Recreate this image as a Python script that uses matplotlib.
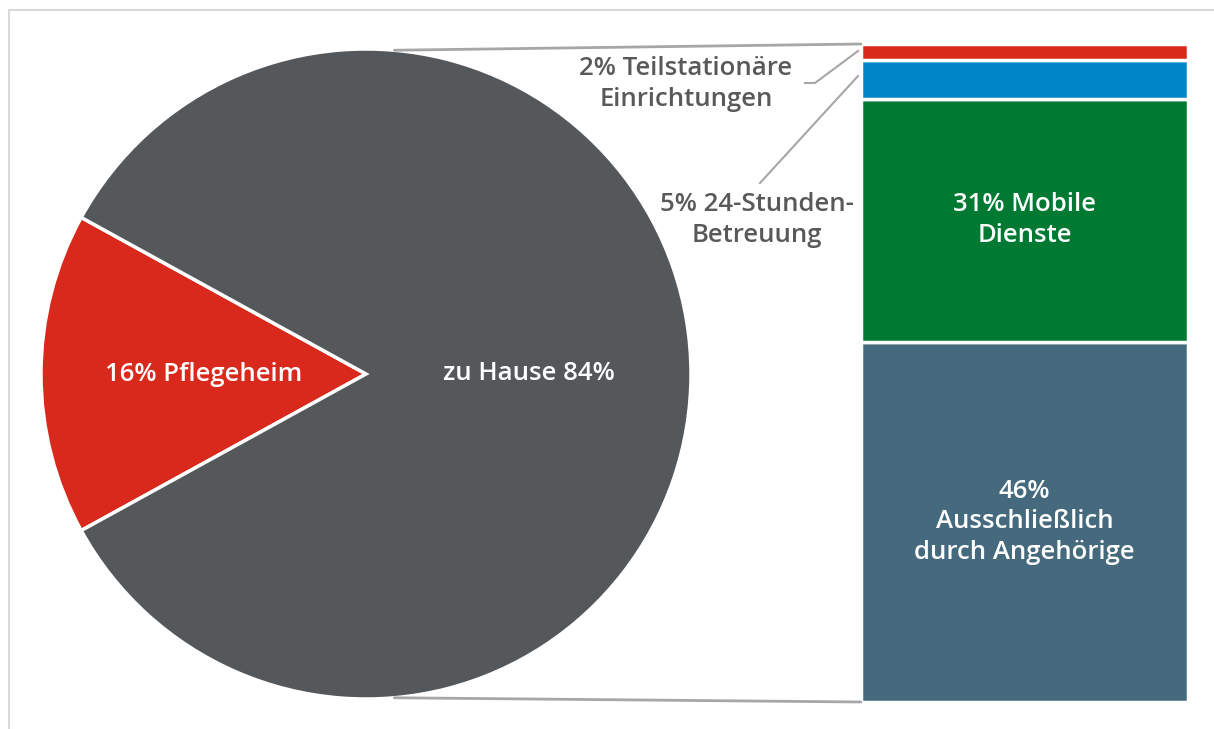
import numpy as np
import matplotlib.pyplot as plt
from matplotlib.patches import ConnectionPatch
from matplotlib.lines import Line2D

plt.rcParams['font.family'] = ['Open Sans', 'DejaVu Sans']

# Daten
pie_labels = ["16% Pflegeheim", "zu Hause 84%"]
pie_values = [16, 84]
pie_colors = ["#d9291c", "#54585b"]

bar_labels = ["46%\nAusschließlich\ndurch Angehörige", "31% Mobile\nDienste",
              "5% 24-Stunden-\nBetreuung", "2% Teilstationäre\nEinrichtungen"]
bar_values = [46, 31, 5, 2]
bar_colors = ["#456a7d", "#007a33", "#0085c8", "#d9291c"]

W, H = 1214, 729
fig = plt.figure(figsize=(W / 100, H / 100), dpi=100)
FS = 18.5
WT = "semibold"
LS = 1.3

def fx(px):
    return px / W

def fy(py):
    return 1 - py / H

# Rahmen
fig.add_artist(Line2D([fx(9), fx(9)], [fy(10), 0], color="#d9d9d9", lw=1.5))
fig.add_artist(Line2D([fx(9), 1], [fy(10), fy(10)], color="#d9d9d9", lw=1.5))

# Kreis
cx, cy, r = 366, 374, 325
ax1 = fig.add_axes([fx(cx - r), fy(cy + r), 2 * r / W, 2 * r / H])
start = 180 - pie_values[0] / sum(pie_values) * 360 / 2
wedges, _ = ax1.pie(pie_values, colors=pie_colors, startangle=start,
                    wedgeprops=dict(edgecolor="white", linewidth=2.5))
ax1.set_xlim(-1, 1)
ax1.set_ylim(-1, 1)
ax1.set_aspect("auto")
ax1.axis("off")
for w, lab in zip(wedges, pie_labels):
    mid = np.deg2rad((w.theta1 + w.theta2) / 2)
    ax1.text(0.5 * np.cos(mid), 0.5 * np.sin(mid), lab, ha="center", va="center",
             color="white", fontsize=FS, fontweight=WT)

# Balken
bx0, bx1, by0, by1 = 861, 1188, 44, 702
ax2 = fig.add_axes([fx(bx0), fy(by1), (bx1 - bx0) / W, (by1 - by0) / H])
bottoms = np.concatenate([[0], np.cumsum(bar_values)[:-1]])
ax2.bar(0, bar_values, bottom=bottoms, width=1, color=bar_colors,
        edgecolor="white", linewidth=2.5)
ax2.set_xlim(-0.5, 0.5)
ax2.set_ylim(0, sum(bar_values))
ax2.axis("off")
for lab, v, b in zip(bar_labels[:2], bar_values[:2], bottoms[:2]):
    ax2.text(0, b + v / 2, lab, ha="center", va="center", color="white",
             fontsize=FS, fontweight=WT, linespacing=LS)

# Verbindungslinien
top_ang = np.deg2rad(85)
for ang, yb in [(top_ang, sum(bar_values)), (-top_ang, 0)]:
    con = ConnectionPatch(xyA=(np.cos(ang), np.sin(ang)), coordsA=ax1.transData,
                          xyB=(-0.5, yb), coordsB=ax2.transData,
                          color="#a6a6a6", lw=2)
    fig.add_artist(con)

# Beschriftungen außen
gray = "#595959"
fig.text(fx(686), fy(84), bar_labels[3], ha="center", va="center", color=gray,
         fontsize=FS, fontweight=WT, linespacing=LS)
fig.text(fx(757), fy(220), bar_labels[2], ha="center", va="center", color=gray,
         fontsize=FS, fontweight=WT, linespacing=LS)
fig.add_artist(Line2D([fx(805), fx(815), fx(858)], [fy(83), fy(83), fy(51)],
                      color="#a6a6a6", lw=1.5))
fig.add_artist(Line2D([fx(760), fx(858)], [fy(183), fy(76)],
                      color="#a6a6a6", lw=1.5))

fig.savefig("out.png", dpi=100)
